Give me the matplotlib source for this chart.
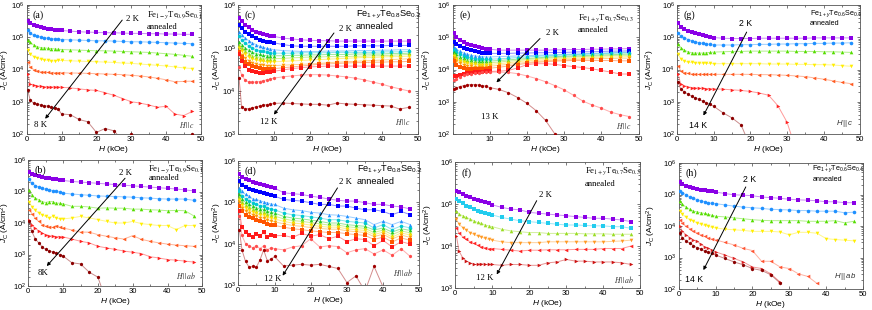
import numpy as np
import matplotlib
matplotlib.use('Agg')
import matplotlib.pyplot as plt
from matplotlib.ticker import LogLocator, MultipleLocator, NullFormatter

plt.rcParams['font.family'] = ['Liberation Sans', 'DejaVu Sans']
plt.rcParams['mathtext.fontset'] = 'custom'
plt.rcParams['mathtext.rm'] = 'Liberation Sans'
plt.rcParams['mathtext.it'] = 'Liberation Sans:italic'
plt.rcParams['mathtext.bf'] = 'Liberation Sans:bold'

nan = float('nan')

# magnetic field grid (kOe)
H_kOe = [0.3, 1, 2, 3, 4, 5, 6, 7, 8, 9, 10, 12.5, 15, 17.5, 20, 22.5, 25,
         27.5, 30, 32.5, 35, 37.5, 40, 42.5, 45, 47.5]

# log10 of Jc (A/cm^2)
# (a) Fe1-yTe0.9Se0.1, H||c, 2K..8K
temps_a = ['2 K', '3 K', '4 K', '5 K', '6 K', '7 K', '8 K']
logjc_a = [
    [5.50,5.44,5.39,5.35,5.31,5.29,5.27,5.25,5.23,5.22,5.21,5.19,5.17,5.16,5.15,5.14,5.14,5.13,5.12,5.12,5.11,5.11,5.10,5.10,5.09,5.09],
    [5.22,5.12,5.07,5.03,5.01,4.99,4.97,4.96,4.95,4.94,4.93,4.92,4.91,4.90,4.89,4.89,4.88,4.87,4.86,4.86,4.85,4.84,4.83,4.82,4.81,4.80],
    [4.93,4.84,4.76,4.71,4.68,4.67,4.66,4.65,4.64,4.63,4.62,4.61,4.60,4.59,4.58,4.58,4.57,4.56,4.55,4.54,4.53,4.51,4.49,4.47,4.44,4.41],
    [4.60,4.48,4.40,4.35,4.32,4.30,4.28,4.26,4.27,4.28,4.28,4.27,4.26,4.25,4.24,4.23,4.22,4.20,4.19,4.17,4.15,4.13,4.11,4.08,4.05,4.03],
    [4.22,4.08,4.00,3.96,3.93,3.92,3.91,3.90,3.90,3.90,3.90,3.89,3.89,3.88,3.87,3.86,3.85,3.84,3.82,3.80,3.77,3.73,3.68,3.62,3.63,3.64],
    [3.85,3.55,3.51,3.49,3.48,3.47,3.46,3.46,3.46,3.46,3.45,3.43,3.40,3.37,3.35,3.28,3.20,3.10,3.00,2.96,2.90,2.83,2.86,2.62,2.57,2.70],
    [3.35,3.05,2.95,2.92,2.90,2.88,2.86,2.83,2.80,2.78,2.62,2.60,2.45,2.38,2.05,2.17,2.10,1.80,2.00,1.80,1.70,1.75,1.80,1.75,1.80,2.00],
]
# (b) Fe1-yTe0.9Se0.1, H||ab, 2K..8K
temps_b = ['2 K', '3 K', '4 K', '5 K', '6 K', '7 K', '8K']
logjc_b = [
    [5.63,5.56,5.52,5.48,5.46,5.44,5.42,5.40,5.39,5.37,5.35,5.32,5.30,5.28,5.26,5.24,5.22,5.20,5.18,5.16,5.14,5.12,5.10,5.08,5.05,5.02],
    [5.39,5.26,5.19,5.14,5.10,5.07,5.05,5.03,5.01,4.98,4.95,4.92,4.90,4.88,4.86,4.85,4.84,4.83,4.82,4.80,4.79,4.77,4.76,4.76,4.76,4.72],
    [5.05,4.89,4.79,4.74,4.68,4.65,4.68,4.68,4.63,4.63,4.61,4.53,4.53,4.51,4.47,4.48,4.47,4.47,4.44,4.44,4.42,4.41,4.39,4.40,4.39,4.23],
    [4.68,4.51,4.40,4.32,4.26,4.21,4.16,4.21,4.16,4.13,4.13,4.16,4.21,4.16,4.11,4.05,4.00,4.00,4.05,3.98,3.95,3.92,3.92,3.79,3.92,3.92],
    [4.42,4.30,4.15,4.05,3.95,3.90,3.88,3.86,3.92,3.87,3.84,3.78,3.71,3.71,3.63,3.58,3.53,3.49,3.60,3.48,3.42,3.37,3.33,3.30,3.28,3.26],
    [4.08,3.95,3.83,3.75,3.68,3.63,3.60,3.58,3.57,3.57,3.56,3.49,3.42,3.37,3.26,3.21,3.16,3.11,3.07,3.03,2.93,2.89,2.84,2.82,2.79,2.76],
    [4.05,3.74,3.49,3.37,3.24,3.16,3.11,3.08,3.05,3.00,2.95,2.74,2.70,2.44,2.28,1.50,nan,nan,nan,nan,nan,nan,nan,nan,nan,nan],
]
# (c) Fe1+yTe0.8Se0.2, H||c, 2K..12K
temps_c = ['2 K', '3 K', '4 K', '5 K', '6 K', '7 K', '8 K', '9 K', '10 K', '10.5 K', '11 K', '12 K']
logjc_c = [
    [5.69,5.62,5.54,5.48,5.42,5.38,5.35,5.32,5.30,5.28,5.27,5.23,5.21,5.19,5.18,5.17,5.17,5.16,5.16,5.16,5.16,5.16,5.16,5.16,5.16,5.16],
    [5.54,5.46,5.38,5.32,5.27,5.23,5.19,5.17,5.15,5.13,5.12,5.08,5.05,5.04,5.04,5.04,5.04,5.04,5.04,5.05,5.05,5.05,5.05,5.06,5.06,5.06],
    [5.38,5.31,5.23,5.17,5.12,5.08,5.04,5.02,4.99,4.98,4.96,4.94,4.93,4.92,4.92,4.92,4.93,4.93,4.93,4.94,4.94,4.94,4.95,4.95,4.96,4.96],
    [5.27,5.19,5.12,5.05,5.00,4.96,4.94,4.92,4.90,4.88,4.88,4.88,4.88,4.89,4.89,4.89,4.89,4.90,4.90,4.90,4.90,4.90,4.91,4.91,4.91,4.92],
    [5.15,5.08,5.00,4.95,4.90,4.87,4.85,4.83,4.82,4.82,4.82,4.82,4.83,4.83,4.84,4.84,4.85,4.85,4.85,4.86,4.86,4.86,4.86,4.87,4.87,4.88],
    [5.08,5.00,4.92,4.86,4.82,4.79,4.77,4.75,4.75,4.75,4.75,4.76,4.77,4.78,4.79,4.79,4.80,4.80,4.80,4.81,4.81,4.82,4.82,4.83,4.84,4.85],
    [5.00,4.92,4.85,4.79,4.75,4.72,4.70,4.69,4.68,4.68,4.68,4.69,4.70,4.71,4.72,4.73,4.74,4.75,4.76,4.77,4.78,4.78,4.79,4.80,4.80,4.81],
    [4.93,4.83,4.76,4.70,4.66,4.63,4.61,4.60,4.59,4.59,4.59,4.60,4.61,4.62,4.63,4.64,4.66,4.67,4.68,4.69,4.70,4.71,4.72,4.73,4.74,4.75],
    [4.90,4.78,4.68,4.62,4.58,4.55,4.53,4.52,4.52,4.52,4.52,4.54,4.56,4.58,4.60,4.62,4.63,4.64,4.65,4.66,4.66,4.67,4.67,4.68,4.68,4.69],
    [4.85,4.70,4.58,4.50,4.46,4.44,4.43,4.43,4.44,4.45,4.46,4.49,4.52,4.54,4.56,4.57,4.58,4.58,4.58,4.58,4.58,4.58,4.58,4.58,4.58,4.58],
    [4.55,4.38,4.25,4.21,4.20,4.21,4.22,4.24,4.26,4.28,4.30,4.33,4.35,4.37,4.38,4.38,4.37,4.35,4.33,4.30,4.26,4.21,4.16,4.10,4.05,4.00],
    [4.30,3.63,3.58,3.59,3.61,3.63,3.65,3.67,3.68,3.70,3.71,3.72,3.71,3.70,3.69,3.69,3.67,3.72,3.70,3.69,3.68,3.67,3.66,3.65,3.58,3.62],
]
# (d) Fe1+yTe0.8Se0.2, H||ab, 2K..12K
temps_d = temps_c
logjc_d = [
    [5.68,5.62,5.57,5.53,5.50,5.47,5.45,5.42,5.39,5.38,5.35,5.23,5.21,5.19,5.15,5.12,5.08,5.05,5.03,5.03,4.99,4.95,4.95,4.91,4.89,4.84],
    [5.51,5.43,5.38,5.33,5.29,5.27,5.25,5.23,5.19,5.17,5.15,5.07,5.05,5.03,4.99,4.95,4.95,4.91,4.91,4.86,4.82,4.82,4.78,4.70,4.78,4.70],
    [5.35,5.27,5.19,5.15,5.08,5.07,5.04,5.01,4.99,4.96,4.95,4.86,4.82,4.80,4.76,4.74,4.70,4.69,4.66,4.62,4.58,4.46,4.54,4.46,4.54,4.46],
    [5.27,5.16,5.08,5.03,4.99,4.95,4.92,4.91,4.86,4.84,4.82,4.74,4.70,4.68,4.65,4.62,4.58,4.58,4.54,4.52,4.50,4.38,4.46,4.34,4.43,4.38],
    [5.20,5.08,5.00,4.95,4.91,4.87,4.84,4.83,4.78,4.76,4.74,4.66,4.62,4.60,4.57,4.54,4.50,4.50,4.46,4.44,4.42,4.33,4.38,4.28,4.36,4.32],
    [5.13,5.01,4.93,4.88,4.84,4.80,4.77,4.76,4.71,4.69,4.67,4.60,4.56,4.54,4.51,4.48,4.45,4.45,4.41,4.39,4.37,4.27,4.33,4.22,4.31,4.26],
    [5.06,4.94,4.86,4.81,4.77,4.73,4.70,4.69,4.64,4.62,4.60,4.54,4.50,4.48,4.45,4.42,4.40,4.40,4.36,4.34,4.32,4.22,4.28,4.16,4.26,4.21],
    [5.00,4.87,4.79,4.74,4.70,4.66,4.63,4.62,4.57,4.55,4.53,4.48,4.44,4.42,4.39,4.37,4.35,4.35,4.31,4.29,4.27,4.17,4.23,4.11,4.21,4.15],
    [4.92,4.78,4.70,4.65,4.61,4.57,4.54,4.52,4.48,4.46,4.44,4.40,4.36,4.34,4.31,4.29,4.27,4.27,4.24,4.22,4.20,4.10,4.16,4.04,4.14,4.08],
    [4.80,4.40,4.28,4.22,4.16,4.24,4.18,4.28,4.15,4.22,4.19,4.20,4.15,4.25,4.18,4.22,4.12,4.18,4.05,4.12,4.10,3.95,4.08,3.92,4.05,3.99],
    [4.66,4.20,4.00,3.95,3.90,3.95,3.88,3.95,3.85,3.90,3.88,3.85,3.92,3.95,4.12,3.92,3.95,3.93,3.78,3.85,3.88,3.75,3.85,3.72,3.88,3.69],
    [4.34,3.85,3.57,3.43,3.45,3.43,3.61,3.85,3.59,3.62,3.69,3.46,3.48,3.50,3.48,3.50,3.45,3.40,3.06,3.22,2.85,3.45,2.95,2.80,2.70,2.80],
]
# (e) Fe1+yTe0.7Se0.3, H||c, 2K..13K
temps_e = ['2 K', '3 K', '4 K', '5 K', '6 K', '7 K', '8 K', '9 K', '10 K', '11 K', '12 K', '13 K']
logjc_e = [
    [5.12,5.01,4.93,4.86,4.80,4.75,4.72,4.70,4.67,4.65,4.63,4.60,4.60,4.60,4.60,4.60,4.60,4.61,4.61,4.62,4.62,4.63,4.63,4.64,4.64,4.65],
    [4.85,4.78,4.72,4.67,4.63,4.59,4.56,4.54,4.52,4.51,4.50,4.50,4.50,4.51,4.51,4.52,4.52,4.53,4.53,4.54,4.55,4.55,4.56,4.57,4.57,4.58],
    [4.70,4.63,4.56,4.51,4.47,4.44,4.42,4.41,4.40,4.39,4.39,4.40,4.41,4.42,4.43,4.44,4.45,4.46,4.47,4.48,4.49,4.50,4.51,4.52,4.53,4.54],
    [4.62,4.55,4.48,4.43,4.39,4.36,4.34,4.33,4.32,4.32,4.32,4.33,4.35,4.37,4.39,4.41,4.42,4.44,4.45,4.46,4.47,4.48,4.49,4.50,4.51,4.52],
    [4.55,4.47,4.40,4.35,4.31,4.29,4.27,4.26,4.26,4.26,4.26,4.28,4.30,4.32,4.34,4.36,4.38,4.40,4.41,4.42,4.43,4.44,4.45,4.46,4.47,4.48],
    [4.48,4.40,4.33,4.28,4.25,4.23,4.22,4.21,4.21,4.21,4.21,4.23,4.26,4.28,4.31,4.33,4.35,4.37,4.38,4.39,4.40,4.41,4.42,4.43,4.44,4.44],
    [4.42,4.33,4.26,4.22,4.19,4.17,4.16,4.15,4.15,4.15,4.16,4.18,4.21,4.24,4.27,4.29,4.31,4.33,4.34,4.35,4.36,4.37,4.38,4.39,4.39,4.40],
    [4.35,4.26,4.19,4.15,4.12,4.10,4.09,4.09,4.09,4.09,4.10,4.13,4.16,4.19,4.22,4.25,4.27,4.29,4.30,4.31,4.32,4.33,4.34,4.34,4.35,4.35],
    [4.25,4.15,4.08,4.04,4.02,4.01,4.01,4.01,4.02,4.03,4.04,4.07,4.11,4.15,4.19,4.22,4.24,4.26,4.27,4.28,4.28,4.28,4.28,4.28,4.27,4.27],
    [3.80,3.80,3.83,3.86,3.88,3.90,3.91,3.92,3.93,3.94,3.94,3.95,3.97,4.05,4.15,4.18,4.18,4.16,4.12,4.09,4.06,4.02,3.97,3.92,3.86,3.86],
    [3.68,3.72,3.78,3.82,3.85,3.87,3.89,3.90,3.91,3.92,3.92,3.92,3.91,3.87,3.80,3.72,3.62,3.50,3.37,3.20,3.02,2.90,2.80,2.68,2.60,2.54],
    [3.40,3.43,3.47,3.50,3.52,3.53,3.53,3.52,3.50,3.48,3.44,3.38,3.28,3.13,2.95,2.72,2.42,2.00,1.50,nan,nan,nan,nan,nan,nan,nan],
]
# (f) Fe1+yTe0.7Se0.3, H||ab, 2K..12K
temps_f = ['2 K', '4 K', '6 K', '8 K', '10 K', '12 K']
logjc_f = [
    [5.32,5.28,5.24,5.20,5.16,5.12,5.10,5.06,5.04,5.02,4.98,4.92,4.88,4.86,4.80,4.78,4.76,4.74,4.72,4.70,4.68,4.66,4.66,4.64,4.62,4.58],
    [5.12,5.06,5.02,4.96,4.92,4.88,4.84,4.82,4.79,4.76,4.74,4.68,4.64,4.60,4.58,4.56,4.54,4.52,4.50,4.50,4.49,4.48,4.48,4.46,4.46,4.42],
    [4.84,4.76,4.72,4.68,4.64,4.60,4.56,4.54,4.50,4.48,4.46,4.40,4.36,4.34,4.32,4.32,4.30,4.30,4.30,4.30,4.29,4.29,4.29,4.28,4.28,4.28],
    [4.64,4.52,4.44,4.38,4.32,4.28,4.24,4.22,4.18,4.16,4.14,4.10,4.08,4.08,4.08,4.08,4.10,4.10,4.10,4.10,4.10,4.10,4.10,4.11,4.12,4.14],
    [4.44,4.30,4.22,4.16,4.10,4.06,4.02,3.98,3.96,3.94,3.94,3.92,3.90,3.88,3.90,3.90,3.91,3.91,3.91,3.92,3.92,3.92,3.94,3.94,3.94,4.00],
    [4.24,3.88,3.72,3.64,3.60,3.56,3.56,3.58,3.56,3.56,3.56,3.54,3.56,3.56,3.54,3.54,3.60,3.62,3.68,3.64,3.64,3.62,3.62,3.62,3.60,3.56],
]
# (g) Fe1+yTe0.6Se0.4, H||c, 2K..14K
temps_g = ['2 K', '4 K', '6 K', '8 K', '10 K', '12 K', '14 K']
logjc_g = [
    [5.43,5.32,5.25,5.20,5.16,5.12,5.09,5.07,5.04,5.02,4.99,4.97,4.96,4.96,4.96,4.97,4.97,4.97,4.97,4.97,4.97,4.98,4.98,4.98,4.98,4.98],
    [5.12,5.03,4.98,4.93,4.89,4.86,4.83,4.81,4.79,4.78,4.76,4.76,4.76,4.77,4.77,4.78,4.78,4.79,4.79,4.80,4.80,4.81,4.81,4.82,4.82,4.83],
    [4.80,4.68,4.60,4.55,4.52,4.51,4.51,4.51,4.52,4.53,4.54,4.55,4.56,4.56,4.57,4.57,4.57,4.57,4.57,4.56,4.56,4.56,4.55,4.55,4.54,4.53],
    [4.49,4.33,4.26,4.23,4.22,4.21,4.20,4.20,4.19,4.19,4.18,4.18,4.18,4.18,4.18,4.18,4.17,4.17,4.17,4.16,4.16,4.15,4.15,4.14,4.12,4.10],
    [4.12,3.96,3.90,3.88,3.86,3.85,3.85,3.85,3.85,3.85,3.85,3.85,3.85,3.85,3.85,3.84,3.84,3.83,3.82,3.80,3.78,3.74,3.70,3.65,3.60,3.56],
    [3.85,3.56,3.50,3.46,3.44,3.43,3.42,3.42,3.41,3.41,3.40,3.39,3.37,3.35,3.32,3.27,3.20,2.88,2.37,1.50,nan,nan,nan,nan,nan,nan],
    [3.60,3.40,3.30,3.24,3.17,3.12,3.07,3.02,2.97,2.92,2.86,2.66,2.50,2.28,1.60,nan,nan,nan,nan,nan,nan,nan,nan,nan,nan,nan],
]
# (h) Fe1+yTe0.6Se0.4, H||ab, 2K..14K
temps_h = temps_g
logjc_h = [
    [5.39,5.33,5.28,5.25,5.20,5.17,5.15,5.13,5.12,5.10,5.08,5.03,4.99,4.98,4.96,4.92,4.90,4.88,4.85,4.83,4.82,4.80,4.77,4.77,4.74,4.74],
    [5.12,5.06,4.99,4.92,4.88,4.83,4.80,4.77,4.74,4.72,4.71,4.67,4.63,4.60,4.58,4.56,4.53,4.52,4.51,4.49,4.49,4.47,4.47,4.47,4.42,4.44],
    [4.80,4.69,4.60,4.53,4.47,4.45,4.42,4.40,4.37,4.34,4.31,4.29,4.26,4.23,4.20,4.18,4.17,4.17,4.17,4.17,4.15,4.15,4.15,4.17,4.10,4.15],
    [4.47,4.37,4.28,4.20,4.15,4.10,4.06,4.02,3.99,3.96,3.94,3.90,3.88,3.86,3.83,3.83,3.83,3.81,3.72,3.80,3.80,3.77,3.60,3.57,3.55,3.53],
    [4.20,4.09,3.99,3.92,3.83,3.78,3.72,3.67,3.61,3.59,3.56,3.48,3.40,3.29,3.22,2.88,2.88,2.70,2.65,2.48,2.40,2.18,nan,nan,nan,nan],
    [3.99,3.83,3.72,3.63,3.56,3.51,3.42,3.34,3.29,3.24,3.18,3.08,2.97,2.86,2.70,2.65,2.48,2.22,nan,nan,nan,nan,nan,nan,nan,nan],
    [3.77,3.63,3.53,3.45,3.38,3.31,3.27,3.20,3.16,3.13,3.08,2.97,2.86,2.77,2.65,2.59,2.45,2.19,nan,nan,nan,nan,nan,nan,nan,nan],
]

col7 = ['#8a00e6', '#1e90ff', '#55dd00', '#ffee00', '#ff5a1f', '#ff2020', '#8b0000']
mk7 = ['s', 'o', '^', 'v', '<', '>', 'h']
col12 = ['#8a00e6', '#0000ff', '#1e90ff', '#00c8d0', '#22cc22', '#99dd11',
         '#ffdd00', '#ff9900', '#ff5500', '#ff1a1a', '#ff4d4d', '#a00000']
mk12 = ['s', 's', '^', 'o', '^', '^', 'v', 'v', 's', 's', 'h', 'h']
col6 = ['#8a00e6', '#22ccee', '#99dd22', '#ff9922', '#ff2222', '#cc1111']
mk6 = ['s', 's', '^', 'v', '<', '>']
colh = ['#8a00e6', '#1e90ff', '#55dd00', '#ffee00', '#ff5533', '#dd2222', '#8b0000']

W, Hpx = 872, 310
fig = plt.figure(figsize=(W / 100, Hpx / 100), dpi=100)

SER = 'Liberation Serif'
SAN = 'Liberation Sans'


def rect(x0, x1, yt, yb):
    return [x0 / W, 1 - yb / Hpx, (x1 - x0) / W, (yb - yt) / Hpx]


def panel(r, data, colors, markers, ylo, hide0, ylx):
    ax = fig.add_axes(rect(*r))
    for vals, c, m in zip(data, colors, markers):
        y = 10 ** np.array(vals, dtype=float)
        ax.plot(H_kOe, y, '-', color=c, lw=0.7, alpha=0.45, zorder=2)
        ax.plot(H_kOe, y, ls='none', marker=m, color=c, ms=2.6, mew=0, zorder=3)
    ax.set_yscale('log')
    ax.set_xlim(0, 50)
    ax.set_ylim(10 ** ylo, 1e6)
    ax.xaxis.set_major_locator(MultipleLocator(10))
    ax.xaxis.set_minor_locator(MultipleLocator(5))
    ax.yaxis.set_major_locator(LogLocator(base=10, numticks=10))
    ax.yaxis.set_minor_locator(LogLocator(base=10, subs=np.arange(2, 10), numticks=20))
    ax.yaxis.set_minor_formatter(NullFormatter())
    ax.tick_params(which='both', direction='in', top=True, right=True,
                   labelsize=5.5, pad=1.5, width=0.5, color='#444444')
    ax.tick_params(which='major', length=2.5)
    ax.tick_params(which='minor', length=1.3)
    for s in ax.spines.values():
        s.set_linewidth(0.6)
        s.set_color('#555555')
    ax.set_xlabel('$H$ (kOe)', fontsize=6, labelpad=0.5)
    ax.set_ylabel(r'$J_\mathrm{C}$ (A/cm$^2$)', fontsize=6)
    ax.yaxis.set_label_coords(ylx, 0.5)
    if hide0:
        ax.set_xticks([10, 20, 30, 40, 50])
    return ax


def deco(ax, letter, comp, cx, cy, ay, ann_serif, csize, arrow, lab2, lab_low,
         field, fy):
    fam = SER if ann_serif else SAN
    mf = 'stix' if ann_serif else 'custom'
    ax.text(0.035, 0.955, letter, transform=ax.transAxes, fontsize=7.2,
            family=SER, va='top', ha='left')
    ax.text(cx, cy, comp, transform=ax.transAxes, fontsize=csize, family=fam,
            math_fontfamily=mf, va='center', ha='left')
    ax.text(cx, ay, 'annealed', transform=ax.transAxes, fontsize=csize,
            family=fam, va='center', ha='left')
    (x0, y0), (x1, y1) = arrow
    ax.annotate('', xy=(x1, y1), xytext=(x0, y0), xycoords='axes fraction',
                textcoords='axes fraction',
                arrowprops=dict(arrowstyle='-|>', color='k', lw=0.7,
                                mutation_scale=5, shrinkA=0, shrinkB=0))
    kfam = lab2[3]
    ax.text(lab2[0], lab2[1], lab2[2], transform=ax.transAxes, fontsize=6.3,
            family=kfam, va='center', ha='left')
    ax.text(lab_low[0], lab_low[1], lab_low[2], transform=ax.transAxes,
            fontsize=6.3, family=kfam, va='center', ha='center')
    ax.text(0.965, fy, field, transform=ax.transAxes, fontsize=5.6,
            math_fontfamily='stix' if kfam == SER else 'custom',
            va='center', ha='right', color='#333333')


ax_a = panel((26.7, 201, 5, 134), logjc_a, col7, mk7, 2, False, -0.085)
deco(ax_a, '(a)', r'Fe$_{1-y}$Te$_{0.9}$Se$_{0.1}$', 0.69, 0.92, 0.83, True, 6.2,
     ((0.548, 0.883), (0.106, 0.118)), (0.57, 0.89, temps_a[0], SER),
     (0.08, 0.07, temps_a[-1], SER), r'$H\,||\,c$', 0.07)

ax_c = panel((238, 417.7, 5, 134), logjc_c, col12, mk12, 3, True, -0.08)
deco(ax_c, '(c)', r'Fe$_{1+y}$Te$_{0.8}$Se$_{0.2}$', 0.655, 0.92, 0.83, False, 6.6,
     ((0.534, 0.783), (0.20, 0.15)), (0.56, 0.815, temps_c[0], SER),
     (0.17, 0.09, temps_c[-1], SER), r'$H\,||\,c$', 0.09)

ax_e = panel((452.5, 638.7, 5, 134), logjc_e, col12, mk12, 2, True, -0.1)
deco(ax_e, '(e)', r'Fe$_{1+y}$Te$_{0.7}$Se$_{0.3}$', 0.675, 0.90, 0.805, True, 6.2,
     ((0.47, 0.74), (0.236, 0.40)), (0.50, 0.78, temps_e[0], SER),
     (0.20, 0.13, temps_e[-1], SER), r'$H\,||\,c$', 0.065)

ax_g = panel((677, 860.3, 5, 134), logjc_g, col7, mk7, 2, False, -0.11)
deco(ax_g, '(g)', r'Fe$_{1+y}$Te$_{0.6}$Se$_{0.4}$', 0.725, 0.935, 0.857, False, 5.2,
     ((0.38, 0.79), (0.144, 0.143)), (0.34, 0.86, temps_g[0], SAN),
     (0.116, 0.065, temps_g[-1], SAN), r'$H\,||\,c$', 0.08)

ax_b = panel((28.3, 202.3, 160, 286), logjc_b, col7, mk7, 2, False, -0.094)
deco(ax_b, '(b)', r'Fe$_{1-y}$Te$_{0.9}$Se$_{0.1}$', 0.69, 0.93, 0.855, True, 6.2,
     ((0.556, 0.855), (0.106, 0.158)), (0.52, 0.895, temps_b[0], SER),
     (0.082, 0.105, temps_b[-1], SER), r'$H\,||\,ab$', 0.08)

ax_d = panel((238.3, 419.3, 161, 285), logjc_d, col12, mk12, 3, False, -0.08)
deco(ax_d, '(d)', r'Fe$_{1+y}$Te$_{0.8}$Se$_{0.2}$', 0.655, 0.93, 0.837, False, 6.6,
     ((0.548, 0.783), (0.245, 0.075)), (0.555, 0.83, temps_d[0], SER),
     (0.19, 0.05, temps_d[-1], SER), r'$H\,||\,ab$', 0.10)

ax_f = panel((455.3, 640.3, 162, 288), logjc_f, col6, mk6, 3, False, -0.11)
deco(ax_f, '(f)', r'Fe$_{1+y}$Te$_{0.7}$Se$_{0.3}$', 0.70, 0.93, 0.827, True, 6.2,
     ((0.44, 0.693), (0.224, 0.107)), (0.45, 0.74, temps_f[0], SER),
     (0.16, 0.08, temps_f[-1], SER), r'$H\,||\,ab$', 0.07)

ax_h = panel((678.7, 863, 163, 289), logjc_h, colh, mk7, 2, False, -0.11)
deco(ax_h, '(h)', r'Fe$_{1+y}$Te$_{0.6}$Se$_{0.4}$', 0.725, 0.955, 0.873, False, 5.2,
     ((0.364, 0.81), (0.134, 0.15)), (0.35, 0.87, temps_h[0], SAN),
     (0.084, 0.075, temps_h[-1], SAN), r'$H\,||\,ab$', 0.10)

fig.savefig('out.png', dpi=100)
